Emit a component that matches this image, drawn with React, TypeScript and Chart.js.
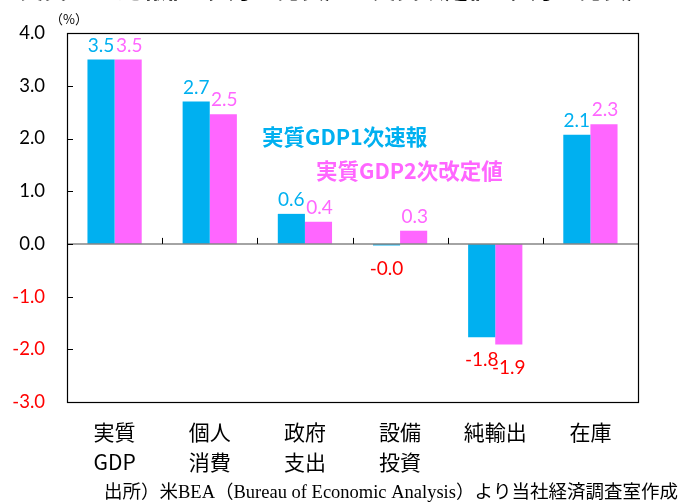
import React, { useEffect, useRef } from "react";
import { Chart, registerables } from "chart.js";

Chart.register(...registerables);

const categories: string[][] = [["実質", "GDP"], ["個人", "消費"], ["政府", "支出"], ["設備", "投資"], ["純輸出"], ["在庫"]];
const firstEstimate = [3.5, 2.7, 0.57, -0.03, -1.77, 2.07];
const secondEstimate = [3.5, 2.46, 0.42, 0.25, -1.91, 2.27];
const seriesNames = ["実質GDP1次速報", "実質GDP2次改定値"];
const yTicks = [-3, -2, -1, 0, 1, 2, 3, 4];
const titleText = "実質GDP速報値（7月の発表）と実質改定値（8月の発表）";
const unitText = "（%）";
const sourceText = "出所）米BEA（Bureau of Economic Analysis）より当社経済調査室作成";

const BLUE = "#00B0F0";
const PINK = "#FF66FF";
const RED = "#FF0000";
const JP = "'Noto Sans CJK JP', 'Noto Sans', sans-serif";
const NUM = "Lato, 'Noto Sans CJK JP', sans-serif";

export default function App() {
  const ref = useRef<HTMLCanvasElement>(null);
  useEffect(() => {
    document.body.style.margin = "0";
    const canvas = ref.current!;
    const deco = {
      id: "deco",
      afterDatasetsDraw(chart: any) {
        const ctx = chart.ctx;
        const { left, right, top, bottom } = chart.chartArea;
        const y = chart.scales.y;
        const y0 = y.getPixelForValue(0);
        ctx.save();
        // zero line
        ctx.strokeStyle = "#868686";
        ctx.lineWidth = 1.5;
        ctx.beginPath();
        ctx.moveTo(left, y0);
        ctx.lineTo(right, y0);
        ctx.stroke();
        // category tick marks
        ctx.strokeStyle = "#000";
        ctx.lineWidth = 1;
        const n = categories.length;
        const w = (right - left) / n;
        for (let i = 1; i < n; i++) {
          const px = Math.round(left + w * i) + 0.5;
          ctx.beginPath();
          ctx.moveTo(px, y0);
          ctx.lineTo(px, y0 - 6);
          ctx.stroke();
        }
        // y ticks inside
        yTicks.forEach((v) => {
          const py = Math.round(y.getPixelForValue(v)) + 0.5;
          ctx.beginPath();
          ctx.moveTo(left, py);
          ctx.lineTo(left + 6, py);
          ctx.stroke();
        });
        // border
        ctx.strokeStyle = "#000";
        ctx.lineWidth = 1.2;
        ctx.strokeRect(Math.round(left) + 0.5, Math.round(top) + 0.5, Math.round(right - left), Math.round(bottom - top));
        // data labels
        ctx.font = `19px ${NUM}`;
        ctx.textAlign = "center";
        ctx.textBaseline = "middle";
        [0, 1].forEach((di) => {
          const meta = chart.getDatasetMeta(di);
          const data = di === 0 ? firstEstimate : secondEstimate;
          meta.data.forEach((bar: any, i: number) => {
            const v = data[i];
            const txt = v.toFixed(1);
            if (v >= 0) {
              ctx.fillStyle = di === 0 ? BLUE : PINK;
              ctx.fillText(txt, bar.x + (di === 1 ? 1 : 0), bar.y - 14);
            } else {
              ctx.fillStyle = RED;
              ctx.fillText(txt, bar.x, bar.y + 23);
            }
          });
        });
        // series name labels
        ctx.font = `bold 21.5px ${JP}`;
        ctx.textAlign = "left";
        ctx.fillStyle = BLUE;
        ctx.fillText(seriesNames[0], 262, 137);
        ctx.fillStyle = PINK;
        ctx.fillText(seriesNames[1], 316, 171);
        // unit
        ctx.fillStyle = "#000";
        ctx.font = `13px ${JP}`;
        ctx.textAlign = "center";
        ctx.fillText(unitText, 69, 19);
        // title (cut off at top)
        ctx.font = `bold 24px ${JP}`;
        ctx.fillText(titleText, 335, -11);
        // source
        ctx.font = `18.5px 'Liberation Serif', 'Noto Sans CJK JP', serif`;
        ctx.textAlign = "left";
        ctx.fillText(sourceText, 104, 493);
        ctx.restore();
      },
    };
    const chart = new Chart(canvas, {
      type: "bar",
      data: {
        labels: categories,
        datasets: [
          { label: seriesNames[0], data: firstEstimate, backgroundColor: BLUE, barPercentage: 1, categoryPercentage: 0.57 },
          { label: seriesNames[1], data: secondEstimate, backgroundColor: PINK, barPercentage: 1, categoryPercentage: 0.57 },
        ],
      },
      options: {
        animation: false,
        responsive: false,
        layout: { padding: { top: 33, right: 46, left: 0, bottom: 0 } },
        plugins: { legend: { display: false }, tooltip: { enabled: false } },
        scales: {
          x: {
            grid: { display: false, drawTicks: false },
            border: { display: false },
            ticks: {
              color: "#000",
              font: { family: JP, size: 21, lineHeight: 1.42 },
              padding: 15,
              maxRotation: 0,
              autoSkip: false,
            },
            afterFit: (s: any) => {
              s.height = 101;
            },
          },
          y: {
            min: -3,
            max: 4,
            afterBuildTicks: (s: any) => {
              s.ticks = yTicks.map((v) => ({ value: v }));
            },
            grid: { display: false, drawTicks: false },
            border: { display: false },
            ticks: {
              padding: 22,
              font: { family: NUM, size: 18.5 },
              color: (c: any) => (c.tick && c.tick.value < 0 ? RED : "#000"),
              callback: (v: any) => Number(v).toFixed(1),
            },
            afterFit: (s: any) => {
              s.width = 67;
            },
          },
        },
      },
      plugins: [deco],
    });
    return () => chart.destroy();
  }, []);
  return (
    <div style={{ width: 684, height: 503, position: "relative", overflow: "hidden" }}>
      <canvas ref={ref} width={684} height={503} style={{ display: "block" }} />
    </div>
  );
}
